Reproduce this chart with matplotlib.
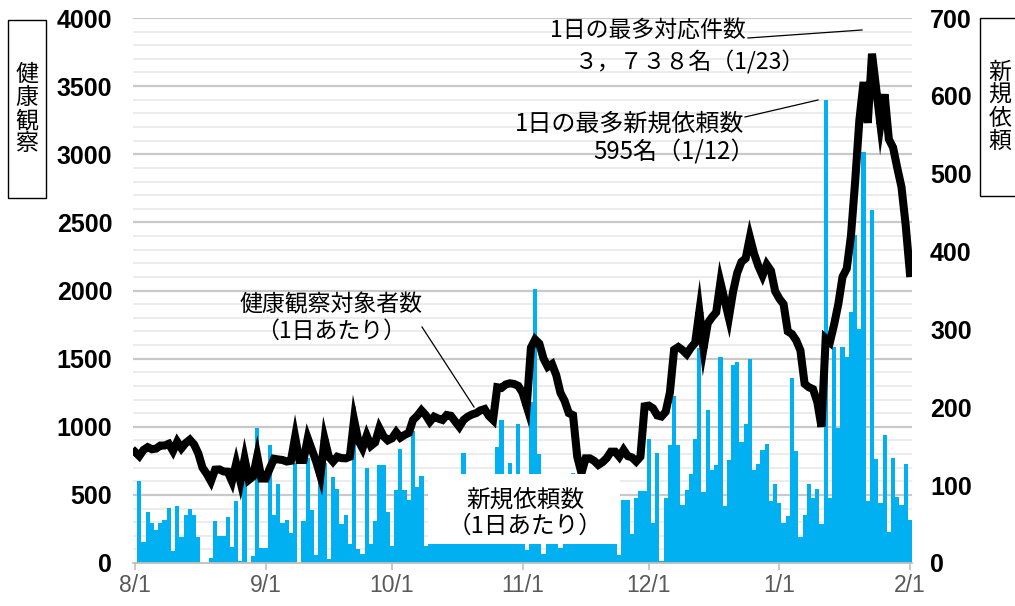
import numpy as np
import pandas as pd
import matplotlib
matplotlib.use("Agg")
import matplotlib.pyplot as plt
from matplotlib.patches import Rectangle
from matplotlib.lines import Line2D

plt.rcParams['font.family'] = ['Noto Sans CJK JP', 'DejaVu Sans']

# one value per day, 8/1 .. 2/1
days = pd.date_range("2020-08-01", "2021-02-01", freq="D")

# new requests per day (right axis)
requests = [
    0, 105, 27, 66, 51, 43, 52, 55, 71, 15, 73, 33, 62, 70, 62, 33, 0, 0, 7, 54,
    35, 35, 59, 20, 80, 3, 107, 0, 9, 174, 19, 19, 152, 62, 102, 51, 55, 39, 129, 0,
    54, 135, 68, 10, 107, 129, 5, 110, 95, 50, 62, 25, 202, 18, 12, 122, 25, 54, 126, 126,
    65, 22, 94, 146, 94, 81, 169, 98, 112, 22, 72, 60, 85, 40, 95, 70, 50, 90, 141, 65,
    80, 45, 100, 75, 55, 90, 149, 184, 70, 129, 85, 178, 100, 17, 207, 352, 140, 12, 60, 80,
    45, 19, 70, 90, 116, 75, 55, 85, 40, 65, 95, 50, 70, 80, 45, 10, 81, 81, 37, 83,
    93, 92, 159, 52, 141, 3, 84, 152, 215, 152, 74, 94, 114, 159, 276, 91, 197, 120, 126, 265,
    73, 132, 254, 258, 155, 179, 262, 120, 127, 145, 153, 80, 101, 77, 51, 60, 238, 144, 34, 62,
    102, 83, 95, 50, 595, 84, 277, 174, 277, 265, 323, 421, 300, 528, 80, 453, 134, 77, 164, 40,
    135, 85, 75, 127, 55,
]

# people under health observation per day (left axis)
observed = [
    815, 785, 830, 850, 835, 840, 862, 862, 875, 822, 890, 842, 880, 905, 870, 805, 700, 655, 600, 685,
    687, 672, 670, 600, 730, 600, 765, 610, 635, 785, 620, 620, 695, 765, 760, 756, 745, 750, 925, 756,
    756, 915, 830, 744, 640, 908, 780, 744, 780, 770, 768, 780, 1050, 900, 842, 935, 860, 885, 990, 930,
    900, 915, 960, 920, 940, 955, 1050, 1080, 1120, 1086, 1037, 1074, 1060, 1050, 1086, 1080, 1040, 1000, 1050, 1074,
    1090, 1100, 1120, 1130, 1080, 1050, 1290, 1285, 1310, 1319, 1314, 1300, 1250, 1150, 1580, 1640, 1610, 1500, 1440, 1460,
    1380, 1250, 1190, 1100, 1085, 780, 660, 768, 768, 750, 720, 740, 770, 817, 817, 780, 830, 785, 775, 745,
    780, 1150, 1155, 1135, 1083, 1075, 1110, 1250, 1565, 1585, 1563, 1533, 1580, 1616, 1845, 1578, 1760, 1804, 1840, 2060,
    1930, 1800, 1990, 2130, 2210, 2236, 2390, 2270, 2180, 2110, 2190, 2145, 1995, 1940, 1900, 1700, 1680, 1634, 1560, 1315,
    1290, 1276, 1183, 1000, 1648, 1620, 1750, 1900, 2100, 2160, 2400, 2800, 3250, 3530, 3230, 3738, 3480, 3220, 3440, 3110,
    3050, 2900, 2760, 2480, 2128,
]

x = np.arange(len(days))
tick_pos = [i for i, d in enumerate(days) if d.day == 1]
tick_labels = [f"{d.month}/{d.day}" for d in days if d.day == 1]

W, H = 1015, 606
fig = plt.figure(figsize=(W / 100, H / 100), dpi=100)


def fx(px):
    return px / W


def fy(py):
    return 1 - py / H


ax1 = fig.add_axes([fx(133), fy(563), fx(912) - fx(133), fy(18) - fy(563)])
ax2 = ax1.twinx()
ax3 = ax1.twinx()

# grid on the bottom axes, every 100 with darker lines every 500
for v in range(100, 4001, 100):
    if v % 500 == 0:
        ax1.axhline(v, color="#c9c9c9", lw=1.6, zorder=0)
    else:
        ax1.axhline(v, color="#ebebeb", lw=1.3, zorder=0)

num_font = ["Liberation Sans", "DejaVu Sans"]

ax1.set_xlim(-0.5, len(days) - 0.5)
ax1.set_ylim(0, 4000)
ax1.set_yticks(range(0, 4001, 500))
ax1.set_yticklabels([str(v) for v in range(0, 4001, 500)],
                    fontsize=18, fontweight="bold", family=num_font)
ax1.tick_params(axis="y", length=0, pad=15)
ax1.set_xticks(tick_pos)
ax1.set_xticklabels(tick_labels, fontsize=16.5, color="#595959", family=num_font)
ax1.tick_params(axis="x", length=5, color="#bfbfbf", width=1.2, pad=3)
for s in ax1.spines.values():
    s.set_visible(False)

# bars: new requests
ax2.bar(x, requests, width=1.0, color="#00b0f0", linewidth=0, zorder=2)
ax2.set_ylim(0, 700)
ax2.set_yticks(range(0, 701, 100))
ax2.set_yticklabels([str(v) for v in range(0, 701, 100)],
                    fontsize=18, fontweight="bold", family=num_font)
ax2.tick_params(axis="y", length=0, pad=13)
for s in ax2.spines.values():
    s.set_visible(False)

# line: health observation
ax3.plot(x, observed, color="black", lw=5.8, solid_joinstyle="miter", zorder=3)
ax3.set_ylim(0, 4000)
ax3.set_yticks([])
for name, s in ax3.spines.items():
    s.set_visible(name == "bottom")
ax3.spines["bottom"].set_color("#bfbfbf")
ax3.spines["bottom"].set_linewidth(1.3)

# text box over the bars
ax3.add_patch(Rectangle((69.6, 139), 45.5, 514, facecolor="white", edgecolor="none", zorder=10))
ax3.text(92.6, 462, "新規依頼数", ha="center", va="center", fontsize=17, zorder=11)
ax3.text(92.6, 268, "（1日あたり）", ha="center", va="center", fontsize=17, zorder=11)

# side captions in boxes
for x0, x1, y0, y1, label, tx in [(8, 46, 20, 198, "健\n康\n観\n察", 27),
                                    (980, 1030, 18, 196, "新\n規\n依\n頼", 1000)]:
    fig.add_artist(Rectangle((fx(x0), fy(y1)), fx(x1) - fx(x0), fy(y0) - fy(y1),
                             transform=fig.transFigure, facecolor="white",
                             edgecolor="black", lw=1.0))
    fig.text(fx(tx), fy((y0 + y1) / 2), label, ha="center", va="center",
             fontsize=16.5, linespacing=1.0)

# callouts
notes = [
    (648, 30, "1日の最多対応件数", 16.5),
    (690, 62, "３，７３８名（1/23）", 16.5),
    (630, 124, "1日の最多新規依頼数", 17.3),
    (674, 153, "595名（1/12）", 17.3),
    (331, 305, "健康観察対象者数", 16.5),
    (331, 331, "（1日あたり）", 16.5),
]
for px, py, s, size in notes:
    fig.text(fx(px), fy(py), s, ha="center", va="center", fontsize=size)

for (xa, ya), (xb, yb) in [((748, 38), (862, 30)), ((745, 117), (818, 100)), ((422, 327), (474, 407))]:
    fig.add_artist(Line2D([fx(xa), fx(xb)], [fy(ya), fy(yb)], transform=fig.transFigure,
                          color="black", lw=0.9))

fig.savefig("out.png", dpi=100)
